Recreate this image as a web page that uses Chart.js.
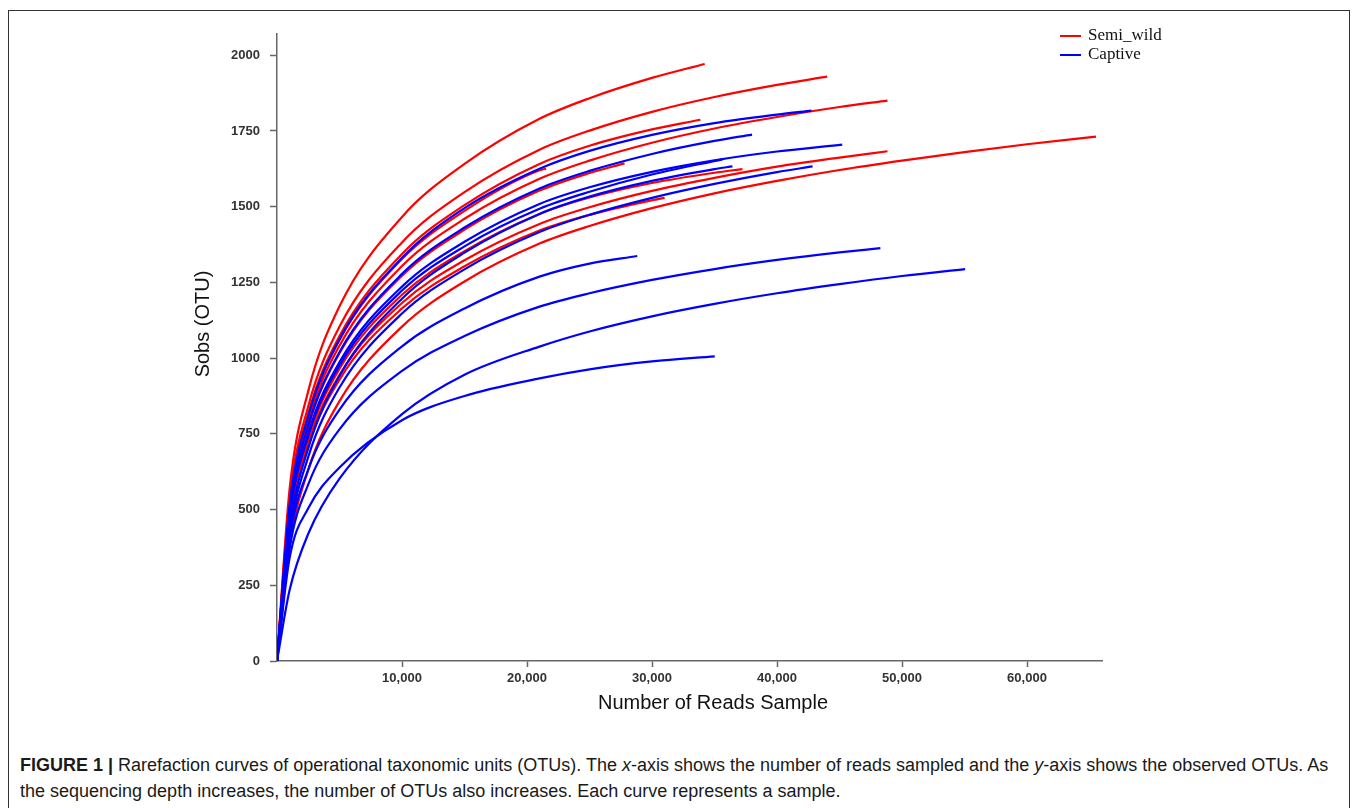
<!DOCTYPE html>
<html>
<head>
<meta charset="utf-8">
<script src="https://cdn.jsdelivr.net/npm/chart.js@4.4.1/dist/chart.umd.min.js"></script>
<style>
  html, body { margin: 0; padding: 0; background: #fff; }
  body { width: 1358px; height: 808px; position: relative; overflow: hidden; }
  .frame { position: absolute; left: 8px; top: 10px; width: 1342px; height: 830px; border: 1.5px solid #333; box-sizing: border-box; }
  #rarefaction { position: absolute; left: 0; top: 0; }
  .caption { position: absolute; left: 20px; top: 752px; font: 18px "Liberation Sans", Arial, sans-serif; line-height: 26px; color: #1a1a1a; white-space: nowrap; }
</style>
</head>
<body>
<div class="frame"></div>
<canvas id="rarefaction" width="1358" height="740"></canvas>
<div class="caption"><b>FIGURE 1 |</b> Rarefaction curves of operational taxonomic units (OTUs). The <i>x</i>-axis shows the number of reads sampled and the <i>y</i>-axis shows the observed OTUs. As<br>the sequencing depth increases, the number of OTUs also increases. Each curve represents a sample.</div>
<script>
// Títulos e legendas
const xTitle = 'Number of Reads Sample';
const yTitle = 'Sobs (OTU)';
const groupNames = ['Semi_wild', 'Captive'];
const groupColors = ['#ff0000', '#0000ff'];

// Marcas dos eixos
const xTicks = [10000, 20000, 30000, 40000, 50000, 60000];
const yTicks = [0, 250, 500, 750, 1000, 1250, 1500, 1750, 2000];
const xMax = 66000;
const yMax = 2070;

// Curvas Semi_wild: [reads, OTUs]
const sw1 = [[0,0],[1000,564],[2500,891],[5000,1171],[10000,1466],[15000,1641],[21000,1790],[25000,1858],[30000,1925],[34215,1971]];
const sw2 = [[0,0],[1000,532],[2500,841],[5000,1104],[10000,1382],[15000,1548],[21000,1688],[25000,1751],[30000,1813],[35000,1862],[40000,1902],[44015,1929]];
const sw3 = [[0,0],[1000,501],[2500,793],[5000,1041],[10000,1304],[15000,1460],[21000,1592],[25000,1652],[30000,1711],[35000,1758],[40000,1796],[45000,1829],[48840,1850]];
const sw4 = [[0,0],[1000,517],[2500,817],[5000,1073],[10000,1344],[15000,1505],[21000,1641],[25000,1701],[30000,1755],[33870,1787]];
const sw5 = [[0,0],[1000,378],[2500,631],[5000,858],[10000,1104],[15000,1253],[21000,1378],[25000,1436],[30000,1495],[35000,1544],[40000,1585],[45000,1621],[50000,1652],[55000,1680],[60000,1706],[65520,1731]];
const sw6 = [[0,0],[1000,455],[2500,719],[5000,944],[10000,1182],[15000,1323],[21000,1443],[25000,1498],[30000,1552],[35000,1595],[40000,1632],[45000,1662],[48840,1683]];
const sw7 = [[0,0],[1000,465],[2500,735],[5000,965],[10000,1209],[15000,1353],[21000,1476],[25000,1530],[30000,1578],[35000,1612],[37235,1624]];
const sw8 = [[0,0],[1000,448],[2500,708],[5000,929],[10000,1164],[15000,1303],[21000,1421],[25000,1473],[30000,1521],[31010,1529]];
const sw9 = [[0,0],[1000,489],[2500,773],[5000,1016],[10000,1272],[15000,1424],[21000,1553],[25000,1611],[27805,1643]];
const sw10 = [[0,0],[1000,510],[2500,807],[5000,1059],[10000,1327],[15000,1486],[21000,1620],[21530,1625]];

// Curvas Captive
const cp1 = [[0,0],[1000,512],[2500,809],[5000,1063],[10000,1331],[15000,1495],[21000,1625],[25000,1684],[30000,1737],[35000,1776],[40000,1804],[42765,1817]];
const cp2 = [[0,0],[1000,491],[2500,777],[5000,1020],[10000,1278],[15000,1431],[21000,1560],[25000,1618],[30000,1674],[35000,1717],[38005,1738]];
const cp3 = [[0,0],[1000,475],[2500,751],[5000,987],[10000,1236],[15000,1384],[21000,1509],[25000,1564],[30000,1615],[35000,1653],[40000,1682],[45218,1705]];
const cp4 = [[0,0],[1000,470],[2500,744],[5000,976],[10000,1223],[15000,1369],[21000,1493],[25000,1549],[30000,1606],[35634,1656]];
const cp5 = [[0,0],[1000,431],[2500,703],[5000,942],[10000,1196],[15000,1348],[21000,1476],[25000,1533],[30000,1585],[35000,1624],[36435,1633]];
const cp6 = [[0,0],[1000,413],[2500,674],[5000,903],[10000,1147],[15000,1293],[21000,1416],[25000,1473],[30000,1529],[35000,1575],[40000,1614],[42846,1633]];
const cp7 = [[0,0],[1000,400],[2500,632],[5000,830],[10000,1039],[15000,1164],[21000,1269],[25000,1312],[28820,1337]];
const cp8 = [[0,0],[1000,369],[2500,583],[5000,765],[10000,958],[15000,1073],[21000,1170],[25000,1214],[30000,1258],[35000,1294],[40000,1324],[45000,1349],[48270,1363]];
const cp9 = [[0,0],[1000,233],[2500,420],[5000,602],[10000,815],[15000,945],[21000,1038],[25000,1088],[30000,1138],[35000,1179],[40000,1214],[45000,1244],[50000,1271],[55050,1294]];
const cp10 = [[0,0],[1000,338],[2500,504],[5000,639],[10000,795],[15000,875],[21000,933],[25000,963],[30000,989],[35020,1006]];

const semiWild = [sw1, sw2, sw3, sw4, sw5, sw6, sw7, sw8, sw9, sw10];
const captive = [cp1, cp2, cp3, cp4, cp5, cp6, cp7, cp8, cp9, cp10];

function toDataset(curve, group) {
    return {
        label: groupNames[group],
        data: curve.map(p => ({ x: p[0], y: p[1] })),
        borderColor: groupColors[group],
        showLine: true,
        fill: false
    };
}

// Captive primeiro para ficar por cima (Chart.js desenha o dataset 0 por último)
const datasets = captive.map(c => toDataset(c, 1)).concat(semiWild.map(c => toDataset(c, 0)));

// Legenda desenhada dentro da área do gráfico, canto superior direito
const cornerLegend = {
    id: 'cornerLegend',
    afterDraw(chart) {
        const { ctx, chartArea } = chart;
        const x0 = chartArea.right - 42;
        ctx.save();
        ctx.font = '17px "Liberation Serif", "Times New Roman", serif';
        ctx.textBaseline = 'middle';
        groupNames.forEach((name, i) => {
            const y = chartArea.top + 2 + i * 19;
            ctx.strokeStyle = groupColors[i];
            ctx.lineWidth = 2;
            ctx.beginPath();
            ctx.moveTo(x0, y);
            ctx.lineTo(x0 + 21, y);
            ctx.stroke();
            ctx.fillStyle = '#111';
            ctx.fillText(name, x0 + 28, y);
        });
        ctx.restore();
    }
};

// Títulos dos eixos
const axisTitles = {
    id: 'axisTitles',
    afterDraw(chart) {
        const { ctx, chartArea } = chart;
        ctx.save();
        ctx.fillStyle = '#111';
        ctx.font = '20px "Liberation Sans", Arial, sans-serif';
        ctx.textAlign = 'center';
        ctx.textBaseline = 'middle';
        ctx.fillText(xTitle, chartArea.left + 436, chartArea.bottom + 42);
        ctx.translate(chartArea.left - 74, chartArea.top + 290);
        ctx.rotate(-Math.PI / 2);
        ctx.fillText(yTitle, 0, 0);
        ctx.restore();
    }
};

const tickFont = { family: '"Liberation Sans", Arial, sans-serif', size: 13, weight: 'bold' };

const ctx = document.getElementById('rarefaction').getContext('2d');
new Chart(ctx, {
    type: 'scatter',
    data: { datasets: datasets },
    options: {
        responsive: false,
        animation: false,
        devicePixelRatio: 1,
        layout: { padding: { left: 180, right: 256, top: 34, bottom: 39 } },
        elements: {
            point: { radius: 0 },
            line: { borderWidth: 2.2, cubicInterpolationMode: 'monotone' }
        },
        plugins: {
            legend: { display: false },
            tooltip: { enabled: false }
        },
        scales: {
            x: {
                type: 'linear',
                min: 0,
                max: xMax,
                afterFit: s => { s.height = 40; },
                afterBuildTicks: s => { s.ticks = xTicks.map(v => ({ value: v })); },
                ticks: {
                    autoSkip: false,
                    font: tickFont,
                    color: '#333',
                    padding: 4,
                    maxRotation: 0,
                    callback: v => v.toLocaleString('en-US')
                },
                grid: { drawOnChartArea: false, tickLength: 6, color: '#666', tickWidth: 1.5 },
                border: { color: '#666', width: 1.5 }
            },
            y: {
                min: 0,
                max: yMax,
                afterFit: s => { s.width = 97; },
                afterBuildTicks: s => { s.ticks = yTicks.map(v => ({ value: v })); },
                ticks: {
                    autoSkip: false,
                    font: tickFont,
                    color: '#333',
                    padding: 10,
                    callback: v => String(v)
                },
                grid: { drawOnChartArea: false, tickLength: 7, color: '#666', tickWidth: 1.5 },
                border: { color: '#666', width: 1.5 }
            }
        }
    },
    plugins: [cornerLegend, axisTitles]
});
</script>
</body>
</html>
